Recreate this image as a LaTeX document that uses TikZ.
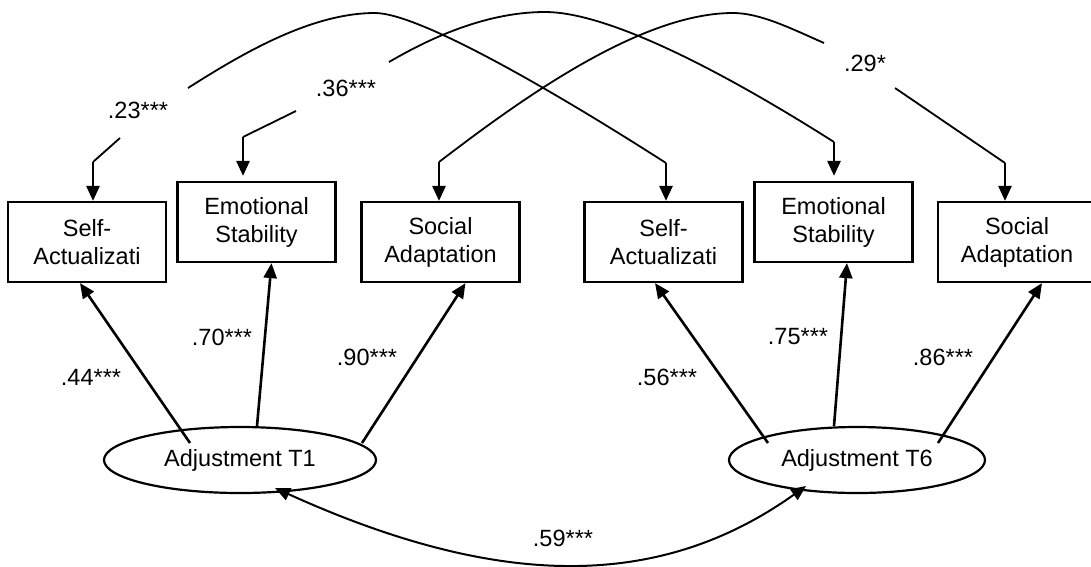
\documentclass[tikz,border=0pt]{standalone}
\usepackage{fontspec}
\setmainfont{Liberation Sans}
\usetikzlibrary{arrows.meta,shapes.geometric}
\newcommand{\semFont}{\fontsize{23.5}{28}\selectfont}
\tikzset{
  box/.style={draw, line width=2.2pt, minimum width=158pt, minimum height=80pt, inner sep=0pt, align=center, font=\semFont},
  latent/.style={draw, ellipse, line width=2.2pt, inner sep=0pt, minimum height=66pt, font=\semFont},
  loadArrow/.style={-{Triangle[length=15pt,width=13pt]}, line width=2.6pt},
  stubArrow/.style={-{Triangle[length=15pt,width=13pt]}, line width=2.6pt},
  covEdge/.style={line width=1.8pt},
  covBoth/.style={{Triangle[length=15pt,width=13pt]}-{Triangle[length=15pt,width=13pt]}, line width=2pt},
  coef/.style={font=\semFont, inner sep=1pt}
}

\begin{document}
\begin{tikzpicture}[x=1pt,y=-1pt]
\useasboundingbox[fill=white] (0,0) rectangle (1091,566);
% indicators
\node[box] (sa1) at (87,242) {Self-\\Actualizati};
\node[box] (es1) at (256.5,222) {Emotional\\Stability};
\node[box] (so1) at (440.5,242) {Social\\Adaptation};
\node[box] (sa2) at (663.5,242) {Self-\\Actualizati};
\node[box] (es2) at (833.5,222) {Emotional\\Stability};
\node[box] (so2) at (1017,242) {Social\\Adaptation};
% latent factors
\node[latent, minimum width=272pt] (t1) at (240,460) {Adjustment T1};
\node[latent, minimum width=256pt] (t6) at (857,460) {Adjustment T6};
% loadings
\draw[loadArrow] ([shift={(-50,-17)}]t1.center) -- ([xshift=-7pt]sa1.south);
\draw[loadArrow] ([shift={(17,-34)}]t1.center) -- ([xshift=15pt]es1.south);
\draw[loadArrow] ([shift={(122,-17)}]t1.center) -- ([xshift=25pt]so1.south);
\draw[loadArrow] ([shift={(-89,-17)}]t6.center) -- ([xshift=-8.5pt]sa2.south);
\draw[loadArrow] ([shift={(-23,-34)}]t6.center) -- ([xshift=13.5pt]es2.south);
\draw[loadArrow] ([shift={(81,-17)}]t6.center) -- ([xshift=25pt]so2.south);
\node[coef] (l44) at (91,377) {.44***};
\node[coef] (l70) at (222,337) {.70***};
\node[coef] (l90) at (367,357) {.90***};
\node[coef] (l56) at (667,377) {.56***};
\node[coef] (l75) at (798,337) {.75***};
\node[coef] (l86) at (943,357) {.86***};
% error covariances
\coordinate (sa1t) at (93,162);
\coordinate (es1t) at (243,137);
\coordinate (so1t) at (439,162);
\coordinate (sa2t) at (666,163);
\coordinate (es2t) at (834,142);
\coordinate (so2t) at (1005,163);
\foreach \s/\b in {sa1t/sa1,so1t/so1,sa2t/sa2,so2t/so2}
  \draw[stubArrow] (\s) -- (\s |- \b.north);
\foreach \s/\b in {es1t/es1,es2t/es2}
  \draw[stubArrow, shorten >=5pt] (\s) -- (\s |- \b.north);
\draw[covEdge] (sa1t) -- (120,138) (188,88) .. controls (240,55) and (310,13) .. (375,13)
  .. controls (420,13) and (560,95) .. (sa2t);
\draw[covEdge] (es1t) -- (296,111) (389,62) .. controls (420,44) and (480,12) .. (545,12)
  .. controls (620,12) and (760,95) .. (es2t);
\draw[covEdge] (so1t) .. controls (520,100) and (640,13) .. (733,13)
  .. controls (760,13) and (790,28) .. (824,43) (895,88) -- (so2t);
\node[coef] (c23) at (138,110) {.23***};
\node[coef] (c36) at (346,88) {.36***};
\node[coef] (c29) at (865,63) {.29*};
% factor covariance
\draw[covBoth] ([shift={(35,28)}]t1.center) .. controls (500,590) and (660,590) .. ([shift={(-51,26)}]t6.center);
\node[coef] (c59) at (563,538) {.59***};
\end{tikzpicture}
\end{document}
